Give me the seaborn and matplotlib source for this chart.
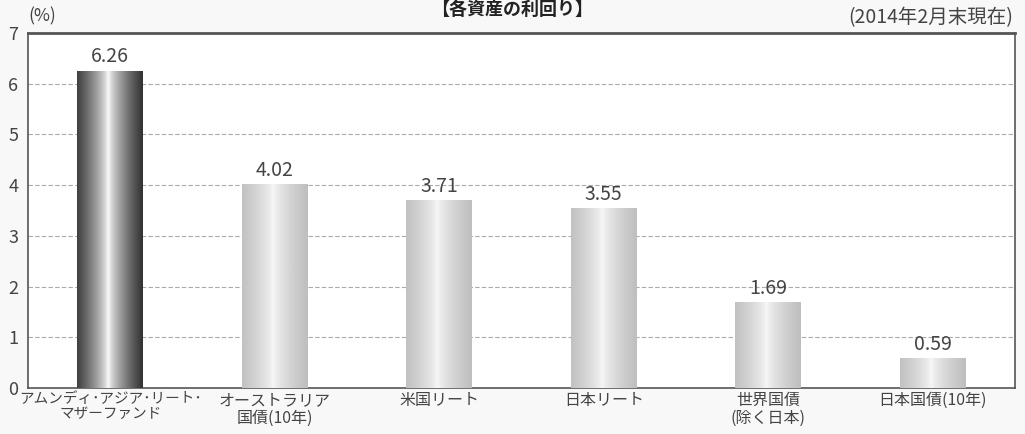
import matplotlib
matplotlib.use("Agg")
import matplotlib.pyplot as plt
import seaborn as sns
import numpy as np
import pandas as pd

# data
categories = [
    "アムンディ･アジア･リート･\nマザーファンド",
    "オーストラリア\n国債(10年)",
    "米国リート",
    "日本リート",
    "世界国債\n(除く日本)",
    "日本国債(10年)",
]
yields = [6.26, 4.02, 3.71, 3.55, 1.69, 0.59]
y_ticks = [0, 1, 2, 3, 4, 5, 6, 7]

sns.set_theme(style="white")
plt.rcParams["font.family"] = ["Noto Sans CJK JP", "DejaVu Sans"]

TEXT_COLOR = "#444444"
SPINE_COLOR = "#555555"

df = pd.DataFrame({"category": categories, "value": yields})

fig = plt.figure(figsize=(10.25, 4.34), dpi=100, facecolor="#f8f8f8")
ax = fig.add_axes([28 / 1025, 1 - 388 / 434, 987 / 1025, 355 / 434])
ax.set_facecolor("white")

sns.barplot(data=df, x="category", y="value", ax=ax, width=0.4,
            color="#dddddd", edgecolor="none", zorder=2)


def shade(n, dark):
    # horizontal metallic shading: bright strip near the centre, darker edges
    x = np.linspace(-1, 1, n)
    prof = 1 - np.abs(x + 0.05) ** 0.7
    if dark:
        lo, hi = 0.22, 1.0
    else:
        lo, hi = 0.75, 0.97
    vals = lo + (hi - lo) * prof
    return np.tile(vals, (2, 1))


for i, p in enumerate(ax.patches):
    x0, w, h = p.get_x(), p.get_width(), p.get_height()
    img = ax.imshow(shade(200, i == 0), cmap="gray", vmin=0, vmax=1,
                    extent=[x0, x0 + w, 0, h], aspect="auto", zorder=3,
                    interpolation="bilinear")
    img.set_clip_path(p)
    p.set_facecolor("none")
    ax.text(x0 + w / 2, h + 0.06, f"{yields[i]:.2f}", ha="center", va="bottom",
            fontsize=14, color=TEXT_COLOR, zorder=4)

ax.set_xlim(-0.5, len(categories) - 0.5)
ax.set_ylim(0, 7)
ax.set_yticks(y_ticks)
ax.set_yticklabels([str(t) for t in y_ticks], fontsize=13, color=TEXT_COLOR)
ax.set_xticklabels(categories, fontsize=11.5, color=TEXT_COLOR, linespacing=1.05)
ax.get_xticklabels()[0].set_fontsize(10.5)
ax.set_xlabel("")
ax.set_ylabel("")

# dashed grid lines at each integer
for t in y_ticks[1:-1]:
    ax.axhline(t, color="#aaaaaa", linestyle=(0, (4, 2)), linewidth=0.8, zorder=1)

ax.tick_params(axis="x", which="major", length=0, pad=3)
ax.tick_params(axis="y", which="major", length=0, pad=7)
ax.set_xticks(np.arange(0.5, len(categories) - 1, 1), minor=True)
ax.tick_params(axis="x", which="minor", direction="in", length=5,
               width=1, color=SPINE_COLOR)

for side in ["left", "bottom", "right"]:
    ax.spines[side].set_color(SPINE_COLOR)
    ax.spines[side].set_linewidth(1.2)
ax.spines["top"].set_color(SPINE_COLOR)
ax.spines["top"].set_linewidth(2)

fig.text(28 / 1025, 1 - 16 / 434, "(%)", fontsize=12.5, color=TEXT_COLOR,
         ha="left", va="center")
fig.text(1013 / 1025, 1 - 18 / 434, "(2014年2月末現在)", fontsize=14,
         color=TEXT_COLOR, ha="right", va="center")
fig.text(0.5, 1.0, "【各資産の利回り】", fontsize=13, fontweight="bold",
         color="#222222", ha="center", va="top")

plt.savefig("out.png", dpi=100, facecolor=fig.get_facecolor())
plt.close()
